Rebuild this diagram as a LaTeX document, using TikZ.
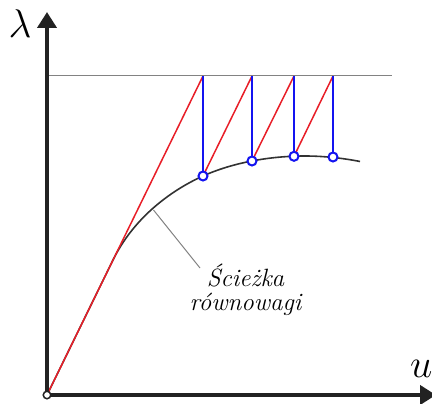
\RequirePackage{fix-cm}
\documentclass[tikz,border=0pt]{standalone}
\usepackage{fontspec}
\usetikzlibrary{arrows.meta}
\definecolor{axisc}{RGB}{34,34,34}
\definecolor{curvec}{RGB}{50,50,50}
\definecolor{redc}{RGB}{232,30,40}
\definecolor{bluec}{RGB}{20,20,240}
\definecolor{grayc}{RGB}{130,130,130}
\tikzset{
  axisline/.style={line width=4pt, draw=axisc, -{Triangle[length=16pt,width=19pt]}},
  pathline/.style={line width=1.6pt, draw=curvec},
  redline/.style={line width=1.5pt, draw=redc},
  blueline/.style={line width=2pt, draw=bluec},
  eqpt/.style={circle, draw=bluec, fill=white, line width=2pt, minimum size=9pt, inner sep=0pt},
  originpt/.style={circle, draw=axisc, fill=white, line width=1.5pt, minimum size=7.5pt, inner sep=0pt},
  leader/.style={line width=1pt, draw=grayc},
  levelline/.style={line width=1pt, draw=grayc},
  lbl/.style={font=\fontsize{25}{24}\selectfont\itshape, align=center, inner sep=0pt},
  axlbl/.style={font=\fontsize{40}{40}\selectfont, inner sep=0pt}
}
\begin{document}
\begin{tikzpicture}[x=1pt,y=-1pt]
\useasboundingbox (0,0) rectangle (432,404);
\clip (0,0) rectangle (432,404);
% coordinates
\coordinate (O) at (47,395);
\coordinate (Ytip) at (47,12);
\coordinate (Xtip) at (436,395);
\coordinate (Ls) at (47,76);
\coordinate (Le) at (392,76);
\coordinate (A) at (113,260);
\coordinate (P1) at (203,176);
\coordinate (P2) at (252,161);
\coordinate (P3) at (294,156.3);
\coordinate (P4) at (333,157);
\coordinate (Pk) at (305,156);
\coordinate (E) at (360,161.5);
\coordinate (T1) at (203,76);
\coordinate (T2) at (252,76);
\coordinate (T3) at (294,76);
\coordinate (T4) at (333,76);
\coordinate (C) at (153.5,210);
\coordinate (Cend) at (200,268);
% level line
\draw[levelline] (Ls) -- (Le);
% equilibrium path
\draw[pathline] (O) -- (A) .. controls (132.6,220) and (168,191.75) .. (P1)
  .. controls (233,162.5) and (270,156) .. (Pk)
  .. controls (325,156) and (345,158.5) .. (E);
% leader and label
\draw[leader] (C) -- (Cend);
\node[lbl, anchor=base] (label) at (245.5,310) {Ścieżka\\równowagi};
% red lines
\draw[redline] (O) -- (T1);
\draw[redline] (P1) -- (T2);
\draw[redline] (P2) -- (T3);
\draw[redline] (P3) -- (T4);
% blue lines
\draw[blueline] (T1) -- (P1);
\draw[blueline] (T2) -- (P2);
\draw[blueline] (T3) -- (P3);
\draw[blueline] (T4) -- (P4);
% axes
\draw[axisline] (O) -- (Ytip);
\draw[axisline] (O) -- (Xtip);
% points
\node[eqpt] (n1) at (P1) {};
\node[eqpt] (n2) at (P2) {};
\node[eqpt] (n3) at (P3) {};
\node[eqpt] (n4) at (P4) {};
\node[originpt] (n0) at (O) {};
% axis labels
\node[axlbl, anchor=base] (lam) at (20,38) {$\lambda$};
\node[axlbl, anchor=base west] (uu) at (410,377) {$u$};
\end{tikzpicture}
\end{document}
